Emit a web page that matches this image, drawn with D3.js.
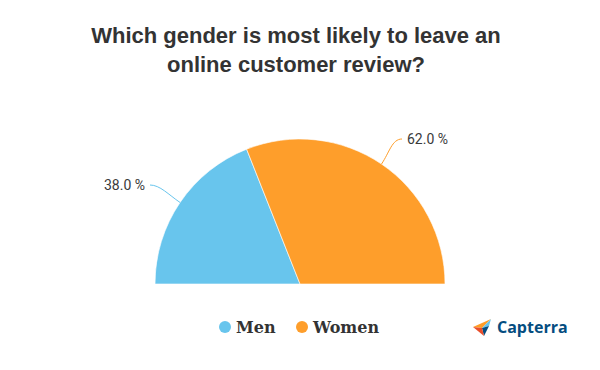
<!DOCTYPE html>
<html>
<head>
<meta charset="utf-8">
<script src="https://cdn.jsdelivr.net/npm/d3@7"></script>
<style>
  body { margin: 0; background: #fff; }
  #chart svg { display: block; }
</style>
</head>
<body>
<div id="chart"></div>
<script>
// Chart data
const categories = ['Men', 'Women'];
const values = [38.0, 62.0];
const colors = ['#68c5ed', '#fe9e2b'];
const title = ['Which gender is most likely to leave an', 'online customer review?'];

const width = 600,
	height = 370;

const svg = d3
	.select('#chart')
	.append('svg')
	.attr('width', width)
	.attr('height', height);

// Title
svg
	.append('text')
	.attr('text-anchor', 'middle')
	.attr('font-family', 'Liberation Sans, Arial, sans-serif')
	.attr('font-weight', 'bold')
	.attr('font-size', 22)
	.attr('fill', '#333')
	.selectAll('tspan')
	.data(title)
	.join('tspan')
	.attr('x', 296)
	.attr('y', (d, i) => 43 + i * 29)
	.text((d) => d);

// Half pie
const cx = 300,
	cy = 284,
	radius = 145;

const data = categories.map((c, i) => ({ name: c, value: values[i], color: colors[i] }));

const pie = d3
	.pie()
	.sort(null)
	.value((d) => d.value)
	.startAngle(-Math.PI / 2)
	.endAngle(Math.PI / 2);

const arc = d3.arc().innerRadius(0).outerRadius(radius);

const g = svg.append('g').attr('transform', `translate(${cx}, ${cy})`);

const arcs = pie(data);

g.selectAll('path.slice')
	.data(arcs)
	.join('path')
	.attr('class', 'slice')
	.attr('d', arc)
	.attr('fill', (d) => d.data.color)
	.attr('stroke', '#fff')
	.attr('stroke-width', 0.6);

// Leader lines and labels
arcs.forEach((d) => {
	const mid = (d.startAngle + d.endAngle) / 2;
	const side = Math.sin(mid) < 0 ? -1 : 1;
	const p0 = [radius * Math.sin(mid), -radius * Math.cos(mid)];
	const p1 = [(radius + 14) * Math.sin(mid), -(radius + 14) * Math.cos(mid)];
	const end = side < 0 ? [-150, -99] : [102, -145];
	const path = d3.path();
	path.moveTo(p0[0], p0[1]);
	path.bezierCurveTo(p1[0], p1[1], end[0] - side * 10, end[1], end[0], end[1]);
	g.append('path')
		.attr('d', path.toString())
		.attr('fill', 'none')
		.attr('stroke', d.data.color)
		.attr('stroke-width', 1);
	g.append('text')
		.attr('x', end[0] + side * 5)
		.attr('y', end[1])
		.attr('dy', '0.35em')
		.attr('text-anchor', side < 0 ? 'end' : 'start')
		.attr('font-family', 'Roboto, sans-serif')
		.attr('font-size', 14)
		.attr('fill', '#3a3a3a')
		.text(d3.format('.1f')(d.data.value) + ' %');
});

// Legend
const legendX = [225, 302];
const legend = svg
	.selectAll('g.legend')
	.data(data)
	.join('g')
	.attr('class', 'legend')
	.attr('transform', (d, i) => `translate(${legendX[i]}, 327)`);

legend
	.append('circle')
	.attr('r', 6)
	.attr('fill', (d) => d.color);

legend
	.append('text')
	.attr('x', 11)
	.attr('dy', '0.35em')
	.attr('font-family', 'DejaVu Serif, serif')
	.attr('font-weight', 'bold')
	.attr('font-size', 16)
	.attr('fill', '#333')
	.text((d) => d.name);

// Capterra logo
const logo = svg.append('g').attr('transform', 'translate(473, 319)');
logo.append('path').attr('d', 'M0,8 L18,0 L9,9 Z').attr('fill', '#ff9d28');
logo.append('path').attr('d', 'M9,9 L18,0 L16,7 Z').attr('fill', '#68c5ed');
logo.append('path').attr('d', 'M9,9 L16,7 L11,17 Z').attr('fill', '#044d80');
logo.append('path').attr('d', 'M0,8 L9,9 L11,17 Z').attr('fill', '#e94e2b');
logo
	.append('text')
	.attr('x', 24)
	.attr('y', 14)
	.attr('font-family', 'Open Sans, sans-serif')
	.attr('font-weight', 'bold')
	.attr('font-size', 16)
	.attr('fill', '#044d80')
	.text('Capterra');
</script>
</body>
</html>
